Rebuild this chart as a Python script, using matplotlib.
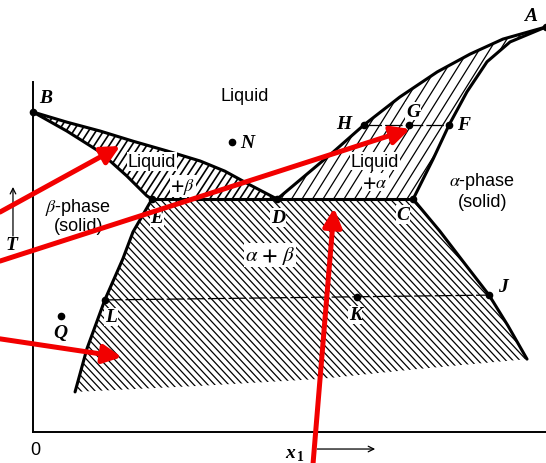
import numpy as np
import matplotlib
matplotlib.use("Agg")
import matplotlib.pyplot as plt
from matplotlib.patches import Polygon, FancyArrowPatch
from matplotlib.collections import LineCollection

plt.rcParams["mathtext.fontset"] = "stix"

# composition x1 (0..1) and reduced temperature T (0..1)
beta_liq_x = [0.0, 0.066, 0.131, 0.195, 0.261, 0.326, 0.374, 0.423, 0.476]
beta_liq_T = [0.790, 0.765, 0.743, 0.718, 0.694, 0.669, 0.644, 0.610, 0.575]

beta_sol_x = [0.0, 0.066, 0.131, 0.183, 0.222, 0.232]
beta_sol_T = [0.790, 0.743, 0.691, 0.632, 0.583, 0.575]

beta_solvus_x = [0.232, 0.195, 0.175, 0.140, 0.105, 0.082]
beta_solvus_T = [0.575, 0.494, 0.427, 0.326, 0.205, 0.099]

alpha_liq_x = [0.476, 0.585, 0.645, 0.715, 0.788, 0.852, 0.916, 1.0]
alpha_liq_T = [0.575, 0.691, 0.758, 0.827, 0.889, 0.933, 0.970, 1.0]

alpha_sol_x = [1.0, 0.930, 0.885, 0.846, 0.811, 0.780, 0.741]
alpha_sol_T = [1.0, 0.963, 0.914, 0.840, 0.758, 0.674, 0.575]

alpha_solvus_x = [0.741, 0.793, 0.842, 0.889, 0.926, 0.963]
alpha_solvus_T = [0.575, 0.496, 0.415, 0.338, 0.262, 0.180]

# lower end of the shaded two-solid region
bottom_x = [0.963, 0.754, 0.559, 0.326, 0.082]
bottom_T = [0.180, 0.156, 0.131, 0.114, 0.099]

T_eutectic = 0.575
T_HF = 0.758

# labelled state points: name, x1, T, label dx, label dy
points = [
    ("B", 0.0, 0.790, 0.025, 0.035),
    ("N", 0.388, 0.716, 0.030, -0.002),
    ("H", 0.645, T_HF, -0.040, 0.004),
    ("G", 0.733, T_HF, 0.008, 0.034),
    ("F", 0.811, T_HF, 0.028, 0.000),
    ("A", 1.0, 1.0, -0.030, 0.028),
    ("D", 0.476, T_eutectic, 0.002, -0.045),
    ("E", 0.232, T_eutectic, 0.010, -0.045),
    ("C", 0.741, T_eutectic, -0.020, -0.038),
    ("J", 0.889, 0.338, 0.028, 0.020),
    ("K", 0.632, 0.333, -0.004, -0.044),
    ("L", 0.140, 0.326, 0.012, -0.042),
    ("Q", 0.055, 0.286, -0.002, -0.040),
]

# red pointers: (tail x, tail T) -> (head x, head T)
red_arrows = [
    ((-0.0643, 0.543), (0.170, 0.706)),
    ((-0.0643, 0.422), (0.735, 0.748)),
    ((-0.0643, 0.230), (0.173, 0.185)),
    ((0.546, -0.0765), (0.587, 0.553)),
]

fig = plt.figure(figsize=(5.46, 4.64), dpi=100)
ax = fig.add_axes([0, 0, 1, 1])
ax.set_xlim(-0.0643, 1.0)
ax.set_ylim(-0.0765, 1.069)
ax.set_xticks([])
ax.set_yticks([])
for side in ("top", "right"):
    ax.spines[side].set_visible(False)
ax.spines["left"].set_position(("data", 0))
ax.spines["left"].set_bounds(0, 0.864)
ax.spines["bottom"].set_position(("data", 0))
ax.spines["bottom"].set_bounds(0, 1.0)
for side in ("left", "bottom"):
    ax.spines[side].set_linewidth(1.4)


def hatch(ax, xs, ts, angle, gap, lw):
    verts = np.column_stack([xs, ts])
    patch = Polygon(verts, closed=True, fill=False, edgecolor="none")
    ax.add_patch(patch)
    px = ax.transData.transform(verts)
    th = np.deg2rad(angle)
    d = np.array([np.cos(th), np.sin(th)])
    n = np.array([-d[1], d[0]])
    s = px @ n
    t = px @ d
    inv = ax.transData.inverted()
    segs = []
    for off in np.arange(s.min(), s.max(), gap):
        a = n * off + d * (t.min() - 5)
        b = n * off + d * (t.max() + 5)
        segs.append(inv.transform(np.array([a, b])))
    lc = LineCollection(segs, colors="black", linewidths=lw, zorder=1)
    lc.set_clip_path(patch)
    ax.add_collection(lc)


# liquid + beta
hatch(ax, beta_liq_x + beta_sol_x[::-1], beta_liq_T + beta_sol_T[::-1], 57, 6.3, 1.2)
# liquid + alpha
hatch(ax, alpha_liq_x + alpha_sol_x[1:], alpha_liq_T + alpha_sol_T[1:], 58, 8.9, 0.9)
# alpha + beta
hatch(ax, [beta_solvus_x[0]] + alpha_solvus_x + bottom_x + beta_solvus_x[::-1],
      [T_eutectic] + alpha_solvus_T + bottom_T + beta_solvus_T[::-1], -47, 5.1, 0.9)

kw = dict(color="black", lw=2.2, zorder=3, solid_capstyle="round", solid_joinstyle="round")
ax.plot(beta_liq_x, beta_liq_T, **kw)
ax.plot(beta_sol_x, beta_sol_T, **kw)
ax.plot(beta_solvus_x, beta_solvus_T, **kw)
ax.plot(alpha_liq_x, alpha_liq_T, **kw)
ax.plot(alpha_sol_x, alpha_sol_T, **kw)
ax.plot(alpha_solvus_x, alpha_solvus_T, **kw)
ax.plot([beta_sol_x[-1], alpha_sol_x[-1]], [T_eutectic, T_eutectic], **kw)

# tie lines
ax.plot([0.645, 0.811], [T_HF, T_HF], color="black", lw=0.9, dashes=(14, 2.5), zorder=3)
ax.plot([0.140, 0.889], [0.326, 0.338], color="black", lw=0.9, dashes=(14, 2.5), zorder=3)

lab = dict(family="Liberation Serif", style="italic", weight="bold", fontsize=14,
           ha="center", va="center", zorder=4)
white = dict(facecolor="white", edgecolor="none", pad=0.6)
for name, x, T, dx, dy in points:
    ax.plot(x, T, "o", color="black", ms=4.5, zorder=5, clip_on=False)
    box = white if name in ("G", "D", "E", "C", "K", "L") else None
    ax.text(x + dx, T + dy, name, bbox=box, **lab)

sans = dict(family="Liberation Sans", fontsize=13, ha="center", va="center", zorder=4)
ax.text(0.413, 0.830, "Liquid", **sans)
ax.text(0.232, 0.667, "Liquid", bbox=white, **sans)
ax.text(0.292, 0.607, r"$\mathbf{+}\beta$", bbox=white, **sans)
ax.text(0.088, 0.556, r"$\beta$-phase", **sans)
ax.text(0.088, 0.509, "(solid)", **sans)
ax.text(0.667, 0.669, "Liquid", bbox=white, **sans)
ax.text(0.667, 0.617, r"$\mathbf{+}\alpha$", bbox=white, **sans)
ax.text(0.875, 0.620, r"$\alpha$-phase", **sans)
ax.text(0.877, 0.570, "(solid)", **sans)
ax.text(0.462, 0.437, r"$\alpha\ \mathbf{+}\ \beta$", bbox=white,
        **dict(sans, fontsize=15))

ax.text(0.004, -0.042, "0", **sans)
ax.text(-0.041, 0.462, "T", **lab)
ax.text(0.501, -0.050, "x", **lab)
ax.text(0.522, -0.060, "1", **dict(lab, fontsize=10, style="normal"))
ax.annotate("", xy=(-0.039, 0.605), xytext=(-0.039, 0.484),
            arrowprops=dict(arrowstyle="->", lw=0.9, color="black", shrinkA=0, shrinkB=0))
ax.annotate("", xy=(0.667, -0.042), xytext=(0.554, -0.042),
            arrowprops=dict(arrowstyle="->", lw=0.9, color="black", shrinkA=0, shrinkB=0))

for (x0, t0), (x1, t1) in red_arrows:
    arr = FancyArrowPatch((x0, t0), (x1, t1), arrowstyle="-|>,head_length=11,head_width=5.5",
                          mutation_scale=1, color="#f20000", lw=3.6,
                          shrinkA=0, shrinkB=0, zorder=6, clip_on=False)
    ax.add_patch(arr)

fig.savefig("out.png", dpi=100)
